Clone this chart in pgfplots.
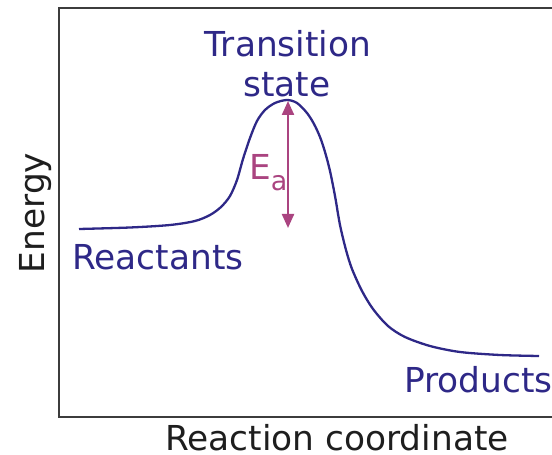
\documentclass[border=0pt]{standalone}
\usepackage{pgfplots}
\pgfplotsset{compat=1.18}
\usepackage{fontspec}
\setmainfont{DejaVu Sans}
\usetikzlibrary{arrows.meta}
\definecolor{curve}{RGB}{46,40,135}
\definecolor{ea}{RGB}{170,68,128}
\definecolor{frame}{RGB}{60,60,60}
\definecolor{lab}{RGB}{30,30,30}
\newcommand{\fs}{\fontsize{34.5}{40}\selectfont}
\begin{document}
\begin{tikzpicture}
\begin{axis}[at={(0,0)},anchor=south west,width=552bp,height=455bp,scale only axis,
  xmin=0,xmax=552,ymin=0,ymax=455,axis lines=none,clip=false]
% curve: x in px, y = 455 - py
\addplot[curve, line width=2.3bp, smooth] coordinates {
(79,226) (130,227.5) (170,230) (195,234) (210,240) (221,248) (230,259) (237,275)
(243,296) (250,317) (257,334) (265,345) (275,352) (287,355) (297,352) (307,342)
(314,331) (320,318) (325,303) (330,284) (335,259) (340,230) (346,205) (352,186)
(362,164) (373,146) (388,129) (405,118) (430,109) (460,103) (500,100) (539,99)};
\addplot[ea, line width=2.2bp, {Triangle[width=12bp,length=14bp]}-{Triangle[width=12bp,length=14bp]}] coordinates {(288,354) (288,227)};
\draw[frame, line width=1.5bp] (axis cs:552,447) -- (axis cs:59,447) -- (axis cs:59,38) -- (axis cs:552,38);
\node[curve, anchor=base, font=\fs, inner sep=0] at (axis cs:288,398) {Transition};
\node[curve, anchor=base, font=\fs, inner sep=0] at (axis cs:287,358) {state};
\node[curve, anchor=base west, font=\fs, inner sep=0] at (axis cs:72,185) {Reactants};
\node[curve, anchor=base west, font=\fs, inner sep=0] at (axis cs:404,62) {Products};
\node[lab, anchor=base, font=\fs, inner sep=0] at (axis cs:337,5) {Reaction coordinate};
\node[lab, anchor=base, rotate=90, font=\fs, inner sep=0] at (axis cs:44,242) {Energy};
\node[ea, anchor=base west, font=\fs, inner sep=0] at (axis cs:249,275) {E\raisebox{-0.3em}{\fontsize{27}{30}\selectfont a}};
\end{axis}
\pgfresetboundingbox
\useasboundingbox (0,0) rectangle (552bp,455bp);
\end{tikzpicture}
\end{document}
